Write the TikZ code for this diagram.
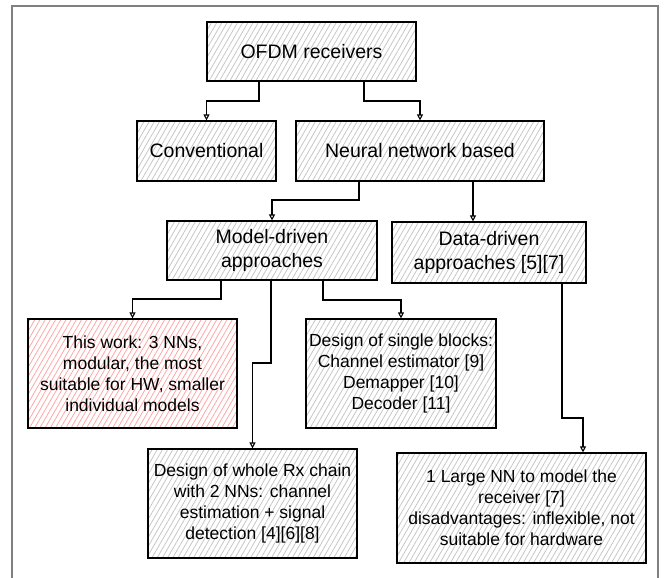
\documentclass[tikz,border=0pt]{standalone}
\usepackage{fontspec}
\setmainfont{Liberation Sans}
\usetikzlibrary{patterns.meta,arrows.meta}

\tikzset{
  boite/.style={draw=black, line width=1.2pt, align=center, inner sep=2pt,
    pattern={Lines[angle=60,distance=4.5pt,line width=0.8pt]}, pattern color=gray!45,
    font=\fontsize{19.5}{24}\selectfont},
  petite/.style={font=\fontsize{17.5}{21}\selectfont},
  rose/.style={pattern color=red!35},
  fleche/.style={-{Triangle[open,length=6pt,width=6pt]}, line width=1.1pt},
}

\begin{document}
\begin{tikzpicture}[x=1pt,y=-1pt]
  \useasboundingbox (0,0) rectangle (664,578);

  % Cadre
  \draw[gray, line width=1.5pt] (12,590) -- (12,6) -- (658,6) -- (658,590);

  % Niveau 1 et 2
  \node[boite,minimum width=209,minimum height=59] (ofdm) at (311.5,51.5) {OFDM receivers};
  \node[boite,minimum width=139,minimum height=60] (conv) at (206.5,151) {Conventional};
  \node[boite,minimum width=248,minimum height=60] (nnb) at (420,151) {Neural network based};

  % Approches
  \node[boite,minimum width=210,minimum height=59] (model) at (272,250.5) {Model-driven\\approaches};
  \node[boite,minimum width=194,minimum height=61] (data) at (489,252.5) {Data-driven\\approaches [5][7]};

  % Travaux
  \node[boite,petite,rose,minimum width=209,minimum height=109] (work) at (132.5,373.5)
    {This work: 3 NNs,\\modular, the most\\suitable for HW, smaller\\individual models};
  \node[boite,petite,minimum width=190,minimum height=109] (single) at (401,373.5)
    {Design of single blocks:\\Channel estimator [9]\\Demapper [10]\\Decoder [11]};
  \node[boite,petite,minimum width=209,minimum height=109] (whole) at (252.5,503.5)
    {Design of whole Rx chain\\with 2 NNs: channel\\estimation + signal\\detection [4][6][8]};
  \node[boite,petite,minimum width=249,minimum height=110] (large) at (521.5,508)
    {1 Large NN to model the\\receiver [7]\\disadvantages: inflexible, not\\suitable for hardware};

  % Fleches
  \draw[fleche] (ofdm.south -| 259,0) -- (259,101) -| (conv.north);
  \draw[fleche] (ofdm.south -| 364,0) -- (364,101) -| (nnb.north);
  \draw[fleche] (nnb.south -| 359,0) -- (359,200) -| (model.north);
  \draw[fleche] (nnb.south -| 473,0) -- (data.north -| 473,0);
  \draw[fleche] (model.south -| 221,0) -- (221,299) -| (work.north);
  \draw[fleche] (model.south -| 271,0) -- (271,363) -| (whole.north);
  \draw[fleche] (model.south -| 323,0) -- (323,300) -| (single.north);
  \draw[fleche] (data.south -| 562,0) -- (562,418) -| (large.north -| 583,0);
\end{tikzpicture}
\end{document}
